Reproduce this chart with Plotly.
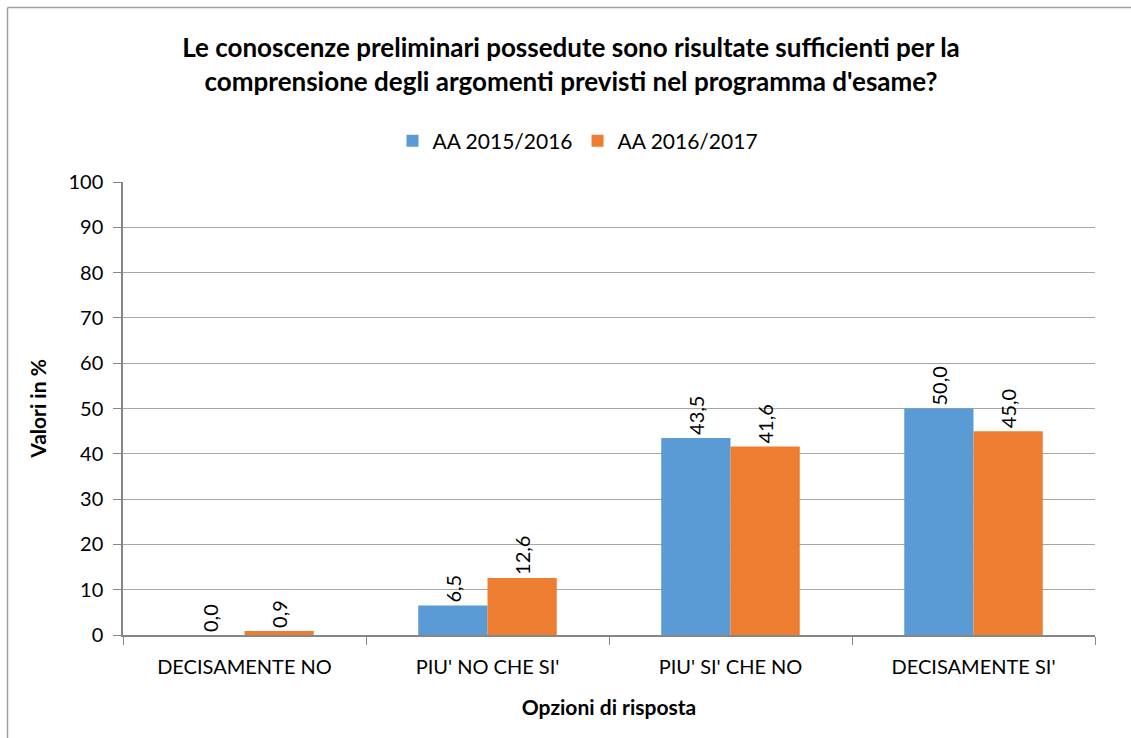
import plotly.graph_objects as go

categories = ["DECISAMENTE NO", "PIU' NO CHE SI'", "PIU' SI' CHE NO", "DECISAMENTE SI'"]
series_names = ["AA 2015/2016", "AA 2016/2017"]
values_2015 = [0.0, 6.5, 43.5, 50.0]
values_2016 = [0.9, 12.6, 41.6, 45.0]
colors = ["#5b9bd5", "#ed7d31"]

W, H = 1131, 738
L, R, T, B = 123, 1095, 182, 635
FONT = "Lato, Carlito, Calibri, 'Liberation Sans', sans-serif"

def fmt(v):
    return f"{v:.1f}".replace(".", ",")

fig = go.Figure()
for name, vals, col in zip(series_names, [values_2015, values_2016], colors):
    fig.add_trace(go.Bar(
        x=categories, y=vals, name=name, marker_color=col,
        marker_line_width=0,
        text=[fmt(v) for v in vals], textposition="outside",
        textangle=-90, cliponaxis=False,
        textfont=dict(family=FONT, size=20, color="#000000"),
    ))

def px_x(p):
    return (p - L) / (R - L)

def px_y(p):
    return (B - p) / (B - T)

border = dict(color="#a0a0a0", width=1.5)

fig.update_layout(
    width=W, height=H,
    margin=dict(l=L, r=W - R, t=T, b=H - B, autoexpand=False),
    paper_bgcolor="white", plot_bgcolor="white",
    barmode="group", bargap=0.43, bargroupgap=0,
    font=dict(family=FONT, size=20, color="#000000"),
    title=dict(
        text="<b>Le conoscenze preliminari possedute sono risultate sufficienti per la<br>comprensione degli argomenti previsti nel programma d'esame?</b>",
        x=571 / W, xanchor="center", y=1 - 57 / H, yanchor="middle",
        font=dict(family=FONT, size=26, color="#000000"),
    ),
    legend=dict(
        orientation="h", x=px_x(578), xanchor="center", y=px_y(141), yanchor="middle",
        font=dict(family=FONT, size=21, color="#000000"),
        itemwidth=30, traceorder="normal",
    ),
    xaxis=dict(
        type="category", tickson="boundaries", ticks="outside", ticklen=8,
        tickcolor="#868686", showline=True, linecolor="#868686", linewidth=1.5,
        showgrid=False, tickfont=dict(family=FONT, size=20, color="#000000"),
        ticklabelstandoff=13,
        title=dict(text="<b>Opzioni di risposta</b>", font=dict(family=FONT, size=21, color="#000000"), standoff=24),
    ),
    yaxis=dict(
        range=[0, 100], dtick=10, ticks="outside", ticklen=8, tickcolor="#868686",
        showline=True, linecolor="#868686", linewidth=1.5,
        showgrid=True, gridcolor="#a6a6a6", gridwidth=1, zeroline=False,
        tickfont=dict(family=FONT, size=20, color="#000000"),
        ticklabelstandoff=6,
        title=dict(text="<b>Valori in %</b>", font=dict(family=FONT, size=21, color="#000000"), standoff=16),
    ),
    shapes=[
        dict(type="line", xref="paper", yref="paper",
             x0=px_x(7.5), x1=px_x(1131), y0=px_y(7.5), y1=px_y(7.5),
             line=border, layer="below"),
        dict(type="line", xref="paper", yref="paper",
             x0=px_x(7.5), x1=px_x(7.5), y0=px_y(7.5), y1=px_y(738),
             line=border, layer="below"),
    ],
)

fig.write_html(
    "out.html",
    config={"displayModeBar": False},
    post_script="document.body.style.margin='0';document.body.style.overflow='hidden';",
)
